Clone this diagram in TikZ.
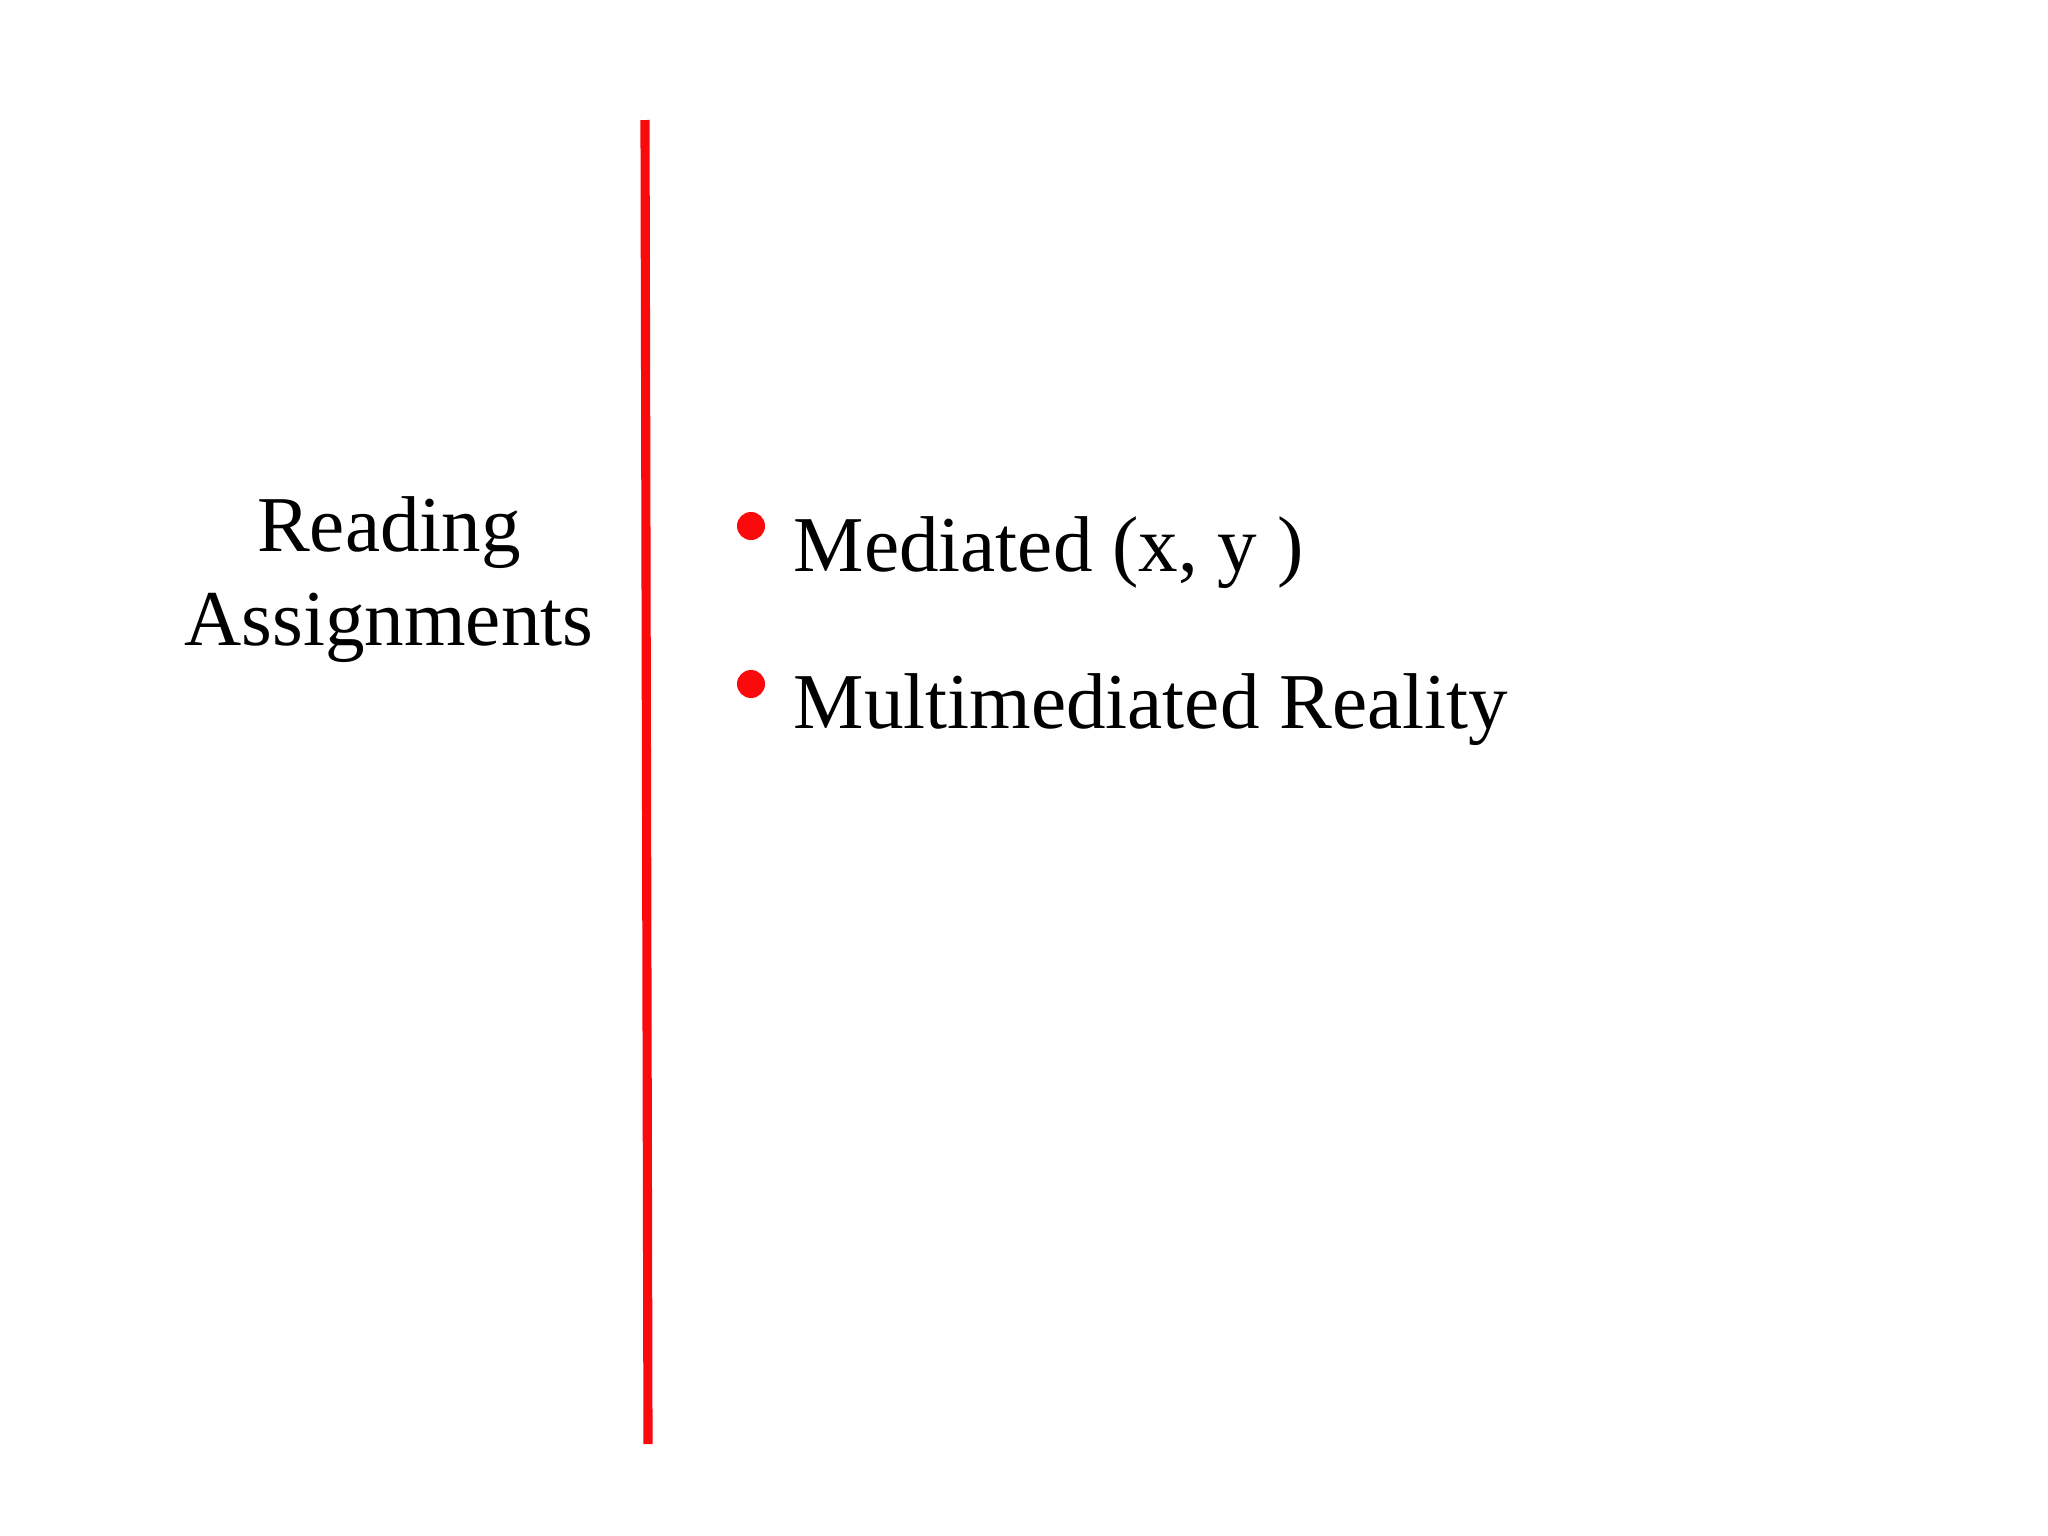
\documentclass[tikz,border=0pt]{standalone}
\usepackage{fontspec}
\setmainfont{Liberation Serif}
\definecolor{rred}{RGB}{250,10,10}
\begin{document}
\begin{tikzpicture}[x=0.01cm,y=-0.01cm,
  txt/.style={inner sep=0pt,font=\fontsize{22.5}{27}\selectfont},
  bul/.style={circle,fill=rred,inner sep=0pt,minimum size=0.28cm}]
\useasboundingbox (0,0) rectangle (2048,1536);
\coordinate (top) at (645,120);
\coordinate (bot) at (648,1444);
\draw[rred,line width=2.6pt] (top) -- (bot);
\node[txt,anchor=base] (r1) at (389,551) {Reading};
\node[txt,anchor=base] (r2) at (389,645) {Assignments};
\node[bul] (b1) at (751,526) {};
\node[bul] (b2) at (751,684) {};
\node[txt,anchor=base west] (m1) at (793,571) {Mediated (x, y )};
\node[txt,anchor=base west] (m2) at (793,728) {Multimediated Reality};
\end{tikzpicture}
\end{document}
